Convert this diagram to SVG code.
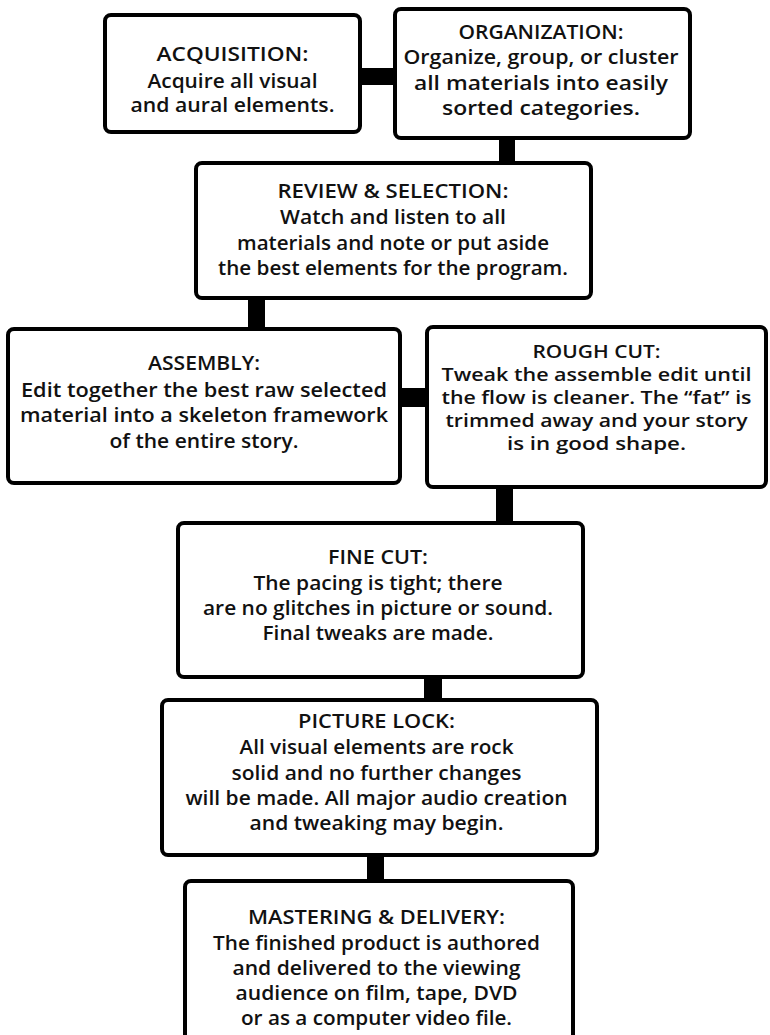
<svg xmlns="http://www.w3.org/2000/svg" width="770" height="1035" viewBox="0 0 770 1035">
<style>
.box{fill:#fff;stroke:#000;stroke-width:4}
.t{font-family:"Open Sans","Liberation Sans",sans-serif;font-weight:600;font-size:19px;fill:#111;text-anchor:middle}
.c{font-size:20px}
.r{font-size:18px}
.k{fill:#000}
</style>
<rect width="770" height="1035" fill="#fff"/>
<g id="connectors">
<rect class="k" x="358" y="68" width="39" height="17"/>
<rect class="k" x="499" y="136" width="16" height="29"/>
<rect class="k" x="248" y="296" width="17" height="35"/>
<rect class="k" x="398" y="388" width="31" height="19"/>
<rect class="k" x="496" y="485" width="17" height="40"/>
<rect class="k" x="424" y="675" width="18" height="27"/>
<rect class="k" x="367" y="853" width="17" height="30"/>
</g>
<g id="acquisition">
<rect class="box" x="105" y="15" width="255" height="117" rx="6"/>
<text class="t" x="232.5" y="61" textLength="152" lengthAdjust="spacingAndGlyphs">ACQUISITION:</text>
<text class="t" x="232.5" y="88" textLength="170" lengthAdjust="spacingAndGlyphs">Acquire all visual</text>
<text class="t" x="232.5" y="112" textLength="204" lengthAdjust="spacingAndGlyphs">and aural elements.</text>
</g>
<g id="organization">
<rect class="box" x="395" y="9" width="295" height="129" rx="6"/>
<text class="t" x="541" y="39" textLength="165" lengthAdjust="spacingAndGlyphs">ORGANIZATION:</text>
<text class="t" x="541" y="64" textLength="275" lengthAdjust="spacingAndGlyphs">Organize, group, or cluster</text>
<text class="t" x="541" y="90" textLength="254" lengthAdjust="spacingAndGlyphs">all materials into easily</text>
<text class="t" x="541" y="115" textLength="198" lengthAdjust="spacingAndGlyphs">sorted categories.</text>
</g>
<g id="review">
<rect class="box" x="196" y="163" width="395" height="135" rx="6"/>
<text class="t c" x="393" y="198" textLength="231" lengthAdjust="spacingAndGlyphs">REVIEW &amp; SELECTION:</text>
<text class="t c" x="393" y="224" textLength="226" lengthAdjust="spacingAndGlyphs">Watch and listen to all</text>
<text class="t c" x="393" y="250" textLength="312" lengthAdjust="spacingAndGlyphs">materials and note or put aside</text>
<text class="t c" x="393" y="275" textLength="350" lengthAdjust="spacingAndGlyphs">the best elements for the program.</text>
</g>
<g id="assembly">
<rect class="box" x="8" y="329" width="392" height="154" rx="6"/>
<text class="t c" x="204" y="370" textLength="112" lengthAdjust="spacingAndGlyphs">ASSEMBLY:</text>
<text class="t c" x="204" y="397" textLength="366" lengthAdjust="spacingAndGlyphs">Edit together the best raw selected</text>
<text class="t c" x="204" y="422" textLength="368" lengthAdjust="spacingAndGlyphs">material into a skeleton framework</text>
<text class="t c" x="204" y="448" textLength="189" lengthAdjust="spacingAndGlyphs">of the entire story.</text>
</g>
<g id="rough-cut">
<rect class="box" x="427" y="327" width="339" height="160" rx="6"/>
<text class="t r" x="596.5" y="358" textLength="128" lengthAdjust="spacingAndGlyphs">ROUGH CUT:</text>
<text class="t r" x="596.5" y="381" textLength="310" lengthAdjust="spacingAndGlyphs">Tweak the assemble edit until</text>
<text class="t r" x="596.5" y="404" textLength="310" lengthAdjust="spacingAndGlyphs">the flow is cleaner. The “fat” is</text>
<text class="t r" x="596.5" y="427" textLength="302" lengthAdjust="spacingAndGlyphs">trimmed away and your story</text>
<text class="t r" x="596.5" y="450" textLength="179" lengthAdjust="spacingAndGlyphs">is in good shape.</text>
</g>
<g id="fine-cut">
<rect class="box" x="178" y="523" width="405" height="154" rx="6"/>
<text class="t" x="378" y="564" textLength="100" lengthAdjust="spacingAndGlyphs">FINE CUT:</text>
<text class="t" x="378" y="590" textLength="249" lengthAdjust="spacingAndGlyphs">The pacing is tight; there</text>
<text class="t" x="378" y="615" textLength="350" lengthAdjust="spacingAndGlyphs">are no glitches in picture or sound.</text>
<text class="t" x="378" y="640" textLength="231" lengthAdjust="spacingAndGlyphs">Final tweaks are made.</text>
</g>
<g id="picture-lock">
<rect class="box" x="162" y="700" width="435" height="155" rx="6"/>
<text class="t" x="376.5" y="728" textLength="157" lengthAdjust="spacingAndGlyphs">PICTURE LOCK:</text>
<text class="t" x="376.5" y="754" textLength="274" lengthAdjust="spacingAndGlyphs">All visual elements are rock</text>
<text class="t" x="376.5" y="780" textLength="290" lengthAdjust="spacingAndGlyphs">solid and no further changes</text>
<text class="t" x="376.5" y="805" textLength="382" lengthAdjust="spacingAndGlyphs">will be made. All major audio creation</text>
<text class="t" x="376.5" y="830" textLength="254" lengthAdjust="spacingAndGlyphs">and tweaking may begin.</text>
</g>
<g id="mastering">
<rect class="box" x="185" y="881" width="388" height="170" rx="6"/>
<text class="t" x="376.5" y="924" textLength="257" lengthAdjust="spacingAndGlyphs">MASTERING &amp; DELIVERY:</text>
<text class="t" x="376.5" y="950" textLength="327" lengthAdjust="spacingAndGlyphs">The finished product is authored</text>
<text class="t" x="376.5" y="975" textLength="288" lengthAdjust="spacingAndGlyphs">and delivered to the viewing</text>
<text class="t" x="376.5" y="1000" textLength="282" lengthAdjust="spacingAndGlyphs">audience on film, tape, DVD</text>
<text class="t" x="376.5" y="1025" textLength="271" lengthAdjust="spacingAndGlyphs">or as a computer video file.</text>
</g>
</svg>
